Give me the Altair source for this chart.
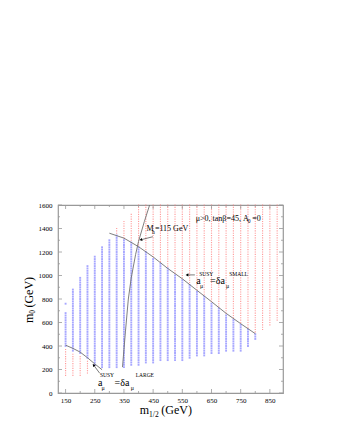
import altair as alt
import pandas as pd

# ---------------- data ----------------
# scan columns (m_1/2 in GeV)
cols = [150, 175, 200, 225, 250, 275, 300, 325, 350, 375, 400, 425, 450, 475, 500,
        525, 550, 575, 600, 625, 650, 675, 700, 725, 750, 775, 800, 825, 850, 875]
# blue (allowed) band per column, m0 in GeV
blue_lo = [400, 360, 340, 300, 240, 220, 220, 220, 220, 240, 240, 260, 260, 280, 280,
           280, 280, 300, 320, 320, 340, 340, 360, 360, 360, 400, 460, None, None, None]
blue_hi = [680, 880, 980, 1080, 1160, 1240, 1300, 1340, 1300, 1280, 1240, 1200, 1140, 1100, 1060,
           1000, 960, 920, 860, 820, 760, 720, 660, 620, 580, 540, 500, None, None, None]
blue_extra_x = [150]
blue_extra_y = [760]
# red (excluded) region above the upper curve
red_up_lo = [None] * 7 + [1360, 1320, 1300, 1260, 1220, 1160, 1120, 1080, 1020, 980, 940, 880,
                          840, 780, 740, 680, 640, 600, 560, 520, 540, 580, 620]
red_up_hi = [None] * 7 + [1400, 1460, 1520] + [1600] * 20
# red region below the lower curve
red_dn_lo = [150, 150, 150, 170] + [None] * 26
red_dn_hi = [380, 340, 320, 280] + [None] * 26
grid_step = 20

# curves
small_x = [300, 350, 400, 450, 500, 550, 600, 650, 700, 750, 800]
small_y = [1360, 1318, 1245, 1158, 1060, 972, 874, 777, 678, 590, 505]
large_x = [150, 175, 200, 225, 250, 275]
large_y = [407, 380, 348, 300, 248, 198]
higgs_x = [345, 355, 365, 375, 390, 400, 420, 438]
higgs_y = [220, 520, 800, 980, 1180, 1290, 1460, 1600]

# arrows (tail -> head) and head directions
arr_x0 = [449, 593, 267]
arr_y0 = [1330, 1005, 168]
arr_x1 = [408, 566, 246]
arr_y1 = [1304, 1005, 238]
arr_ang = [256, 270, 323]

# annotation texts
ann_t = ["μ>0, tanβ=45, A", "0", "=0",
         "M", "h", "=115 GeV",
         "a", "SUSY", "μ", "=δa", "SMALL", "μ",
         "a", "SUSY", "μ", "=δa", "LARGE", "μ",
         "m", "1/2", "(GeV)",
         "m", "0", "(GeV)"]
ann_x = [596, 774, 790,
         427, 446, 456,
         598, 608, 611, 645, 711, 700,
         261, 268, 273, 318, 390, 373,
         404, 436, 478,
         39, 46, 39]
ann_y = [1467, 1450, 1467,
         1375, 1350, 1375,
         930, 997, 895, 930, 997, 895,
         60, 133, 25, 60, 133, 25,
         -182, -208, -182,
         595, 675, 727]
ann_fs = [8, 5.5, 8,
          8, 5.5, 8,
          10, 5.5, 6, 10, 5.5, 6,
          10, 5.5, 6, 10, 5.5, 6,
          12, 7.5, 12,
          12, 7.5, 12]
ann_ang = [0] * 21 + [270, 270, 270]

# axis ticks
x_major = [150, 250, 350, 450, 550, 650, 750, 850]
x_minor = [200, 300, 400, 500, 600, 700, 800]
y_major = [0, 200, 400, 600, 800, 1000, 1200, 1400, 1600]
y_minor = [100, 300, 500, 700, 900, 1100, 1300, 1500]

# ---------------- build tables ----------------
def expand(los, his):
    xs, ys = [], []
    for c, lo, hi in zip(cols, los, his):
        if lo is None:
            continue
        m = lo
        while m <= hi:
            xs.append(c)
            ys.append(m)
            m += grid_step
    return xs, ys

bx, by = expand(blue_lo, blue_hi)
bx += blue_extra_x
by += blue_extra_y
blue_df = pd.DataFrame({"x": bx, "y": by})
rx1, ry1 = expand(red_up_lo, red_up_hi)
rx2, ry2 = expand(red_dn_lo, red_dn_hi)
red_df = pd.DataFrame({"x": rx1 + rx2, "y": ry1 + ry2})

curves = pd.concat([
    pd.DataFrame({"x": small_x, "y": small_y, "c": "small", "o": range(len(small_x))}),
    pd.DataFrame({"x": large_x, "y": large_y, "c": "large", "o": range(len(large_x))}),
    pd.DataFrame({"x": higgs_x, "y": higgs_y, "c": "higgs", "o": range(len(higgs_x))}),
])
arrows = pd.DataFrame({"x": arr_x0, "y": arr_y0, "x2": arr_x1, "y2": arr_y1, "a": arr_ang})
ann = pd.DataFrame({"t": ann_t, "x": ann_x, "y": ann_y, "fs": ann_fs, "ang": ann_ang})

FONT = "Liberation Serif"
W, H = 225, 188
xs = alt.Scale(domain=[124, 895], nice=False, zero=False)
ys = alt.Scale(domain=[0, 1600], nice=False, zero=False)
xaxis = alt.Axis(values=x_major, title=None, ticks=False, domain=False, grid=False, format="d",
                 labelFont=FONT, labelFontSize=7, labelPadding=3, labelColor="black")
yaxis = alt.Axis(values=y_major, title=None, ticks=False, domain=False, grid=False, format="d",
                 labelFont=FONT, labelFontSize=7, labelPadding=6, labelColor="black")


def X(f="x"):
    return alt.X(f"{f}:Q", scale=xs, axis=xaxis)


def Y(f="y"):
    return alt.Y(f"{f}:Q", scale=ys, axis=yaxis)


red = alt.Chart(red_df).mark_square(size=1.3, color="#ff7a7a", opacity=0.75).encode(x=X(), y=Y())
blue = alt.Chart(blue_df).mark_square(size=3.6, color="#8a8aff", opacity=0.75).encode(x=X(), y=Y())
lines = alt.Chart(curves).mark_line(color="#707070", strokeWidth=0.9).encode(
    x=X(), y=Y(), detail="c:N", order="o:Q")
shafts = alt.Chart(arrows).mark_rule(color="#222222", strokeWidth=0.6).encode(
    x=X(), y=Y(), x2="x2:Q", y2="y2:Q")
heads = alt.Chart(arrows).mark_point(shape="triangle-up", filled=True, color="black",
                                     size=10, opacity=1).encode(
    x=X("x2"), y=Y("y2"), angle=alt.Angle("a:Q", scale=None))
texts = alt.Chart(ann).mark_text(align="left", baseline="alphabetic", font=FONT,
                                 color="black").encode(
    x=X(), y=Y(), text="t:N", size=alt.Size("fs:Q", scale=None),
    angle=alt.Angle("ang:Q", scale=None))

tcol = "#999999"
ty_maj = pd.DataFrame({"v": y_major})
ty_min = pd.DataFrame({"v": y_minor})
tx_maj = pd.DataFrame({"v": x_major})
tx_min = pd.DataFrame({"v": x_minor})
ticks = []
for df, ln in [(ty_maj, 4), (ty_min, 2)]:
    ticks.append(alt.Chart(df).mark_rule(color=tcol, strokeWidth=0.8).encode(
        y=Y("v"), x=alt.value(0), x2=alt.value(ln)))
    ticks.append(alt.Chart(df).mark_rule(color=tcol, strokeWidth=0.8).encode(
        y=Y("v"), x=alt.value(W), x2=alt.value(W - ln)))
for df, ln in [(tx_maj, 4), (tx_min, 2)]:
    ticks.append(alt.Chart(df).mark_rule(color=tcol, strokeWidth=0.8).encode(
        x=X("v"), y=alt.value(H), y2=alt.value(H - ln)))
    ticks.append(alt.Chart(df).mark_rule(color=tcol, strokeWidth=0.8).encode(
        x=X("v"), y=alt.value(0), y2=alt.value(ln)))

chart = alt.layer(red, blue, lines, shafts, heads, *ticks, texts).properties(
    width=W, height=H,
    autosize=alt.AutoSizeParams(type="none"),
    padding={"left": 50, "top": 197, "right": 30, "bottom": 40},
).configure_view(stroke="#999999", strokeWidth=1.2)

chart.save("out.html", embed_options={"renderer": "svg", "actions": False})
